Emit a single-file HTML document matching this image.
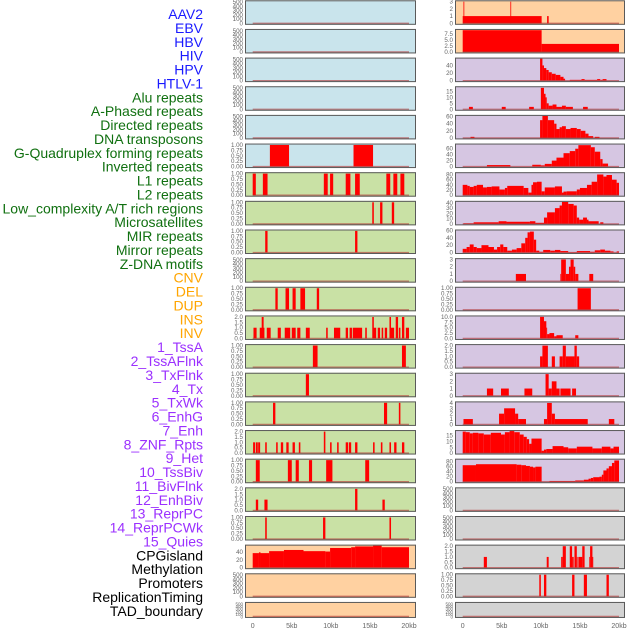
<!DOCTYPE html>
<html><head><meta charset="utf-8"><style>
html,body{margin:0;padding:0;background:#fff;}
svg{display:block;font-family:"Liberation Sans",sans-serif;}
</style></head><body>
<svg id="chart" width="630" height="630" viewBox="0 0 630 630" xmlns="http://www.w3.org/2000/svg"></svg>
<script>
const labelNames=["AAV2","EBV","HBV","HIV","HPV","HTLV-1","Alu repeats","A-Phased repeats","Directed repeats","DNA transposons","G-Quadruplex forming repeats","Inverted repeats","L1 repeats","L2 repeats","Low_complexity A/T rich regions","Microsatellites","MIR repeats","Mirror repeats","Z-DNA motifs","CNV","DEL","DUP","INS","INV","1_TssA","2_TssAFlnk","3_TxFlnk","4_Tx","5_TxWk","6_EnhG","7_Enh","8_ZNF_Rpts","9_Het","10_TssBiv","11_BivFlnk","12_EnhBiv","13_ReprPC","14_ReprPCWk","15_Quies","CPGisland","Methylation","Promoters","ReplicationTiming","TAD_boundary"];
const labelGroups=[0,0,0,0,0,0,1,1,1,1,1,1,1,1,1,1,1,1,1,2,2,2,2,2,3,3,3,3,3,3,3,3,3,3,3,3,3,3,3,4,4,4,4,4];
const xTickValues=[0,5,10,15,20];
const xTickLabels=["0","5kb","10kb","15kb","20kb"];
// bars: [startKb, endKb, value]
const L1=[],L2=[],L3=[],L4=[],L5=[];
const L6=[[2.2,4.65,1],[12.9,15.4,1]];
const L7=[[0,0.4,1],[1.3,1.9,1],[9.1,9.6,1],[9.9,10.3,1],[11.9,12.5,1],[13.1,13.7,1],[17.1,17.6,1],[18.0,18.5,1],[18.9,19.4,1]];
const L8=[[15.3,15.5,1],[16.3,16.6,1],[17.8,18.1,1]];
const L9=[[1.6,1.9,1],[13.1,13.4,1]];
const L10=[];
const L11=[[2.9,3.2,1],[4.2,4.65,1],[5.1,5.5,1],[6.1,6.7,1],[8.2,8.5,1]];
const L12=[[0.1,0.5,1],[0.9,1.5,1],[1.15,1.4,2],[1.8,2.3,1],[3.2,3.6,1],[4.1,4.8,1],[5.0,5.5,1],[5.7,6.1,1],[6.8,7.3,1],[9.4,9.6,1],[10.4,11.2,1],[11.9,12.2,1],[12.4,12.7,1],[12.8,14.0,1],[14.4,14.6,1],[15.3,15.5,2],[15.4,15.8,1],[16.0,16.3,1],[16.5,16.7,1],[16.9,17.2,1],[17.5,17.7,2],[17.6,18.1,1],[18.3,18.6,2],[18.7,18.9,1],[19.1,19.4,2],[19.6,20.0,1]];
const L13=[[7.7,8.3,1],[19.1,19.6,1]];
const L14=[[6.8,7.2,1]];
const L15=[[2.6,2.9,1],[16.8,17.2,1],[18.7,18.9,1]];
const L16=[[0.05,0.3,1],[0.4,0.65,1],[0.7,0.95,1],[1.6,1.8,1],[3.0,3.2,1],[3.6,3.9,1],[4.3,4.6,1],[5.1,5.4,1],[5.9,6.1,1],[9.1,9.3,2],[9.9,10.1,1],[10.8,11.0,1],[11.9,12.2,1],[12.3,12.6,1],[13.1,13.4,1],[15.4,15.6,1],[16.4,16.6,1],[17.5,17.7,1],[18.1,18.4,1],[19.1,19.4,1]];
const L17=[[0.4,0.9,1],[4.5,5.0,1],[5.5,5.9,1],[7.2,7.6,1],[9.4,10.2,1],[14.4,14.9,1]];
const L18=[[0.4,0.7,1],[1.5,1.9,1],[13.1,13.4,2],[16.6,16.9,1]];
const L19=[[1.6,1.8,1],[9.0,9.3,1],[17.5,17.7,1]];
const L20=[[0,0.8,37],[0.8,1.0,39],[1.0,2.1,37],[2.1,4.0,42],[4.0,6.5,45],[6.5,9.3,42],[9.3,9.9,41],[9.9,12.6,50],[12.6,13.1,52],[13.1,15.4,54],[15.4,16.5,56],[16.5,20,52]];
const L21=[],L22=[];
const R1=[[0,10.1,1],[0.1,0.2,3],[6.1,6.2,3],[10.8,11.0,1]];
const R2=[[0,10.1,9.2],[10.1,20,3.4]];
const R3=[[9.9,10.2,58],[10.2,10.4,40],[10.4,10.7,33],[10.7,11.0,28],[11.0,11.4,22],[11.4,11.9,18],[11.9,12.5,15],[12.5,12.9,10],[12.9,13.1,5],[13.7,15.2,2],[15.2,15.6,4],[15.6,17.2,2],[17.2,17.6,4],[17.6,17.9,2],[17.9,18.4,4]];
const R4=[[0.8,1.3,2],[5.0,5.5,2],[8.5,9.1,2],[10.0,10.4,18],[10.4,10.6,13],[10.6,10.75,10],[10.75,11.0,5],[11.0,11.5,3],[11.5,12.0,4],[12.0,12.7,2],[12.7,13.2,3],[13.2,14.1,2],[15.4,16.0,2]];
const R5=[[1.0,1.5,3],[9.9,10.2,50],[10.2,10.9,62],[10.9,11.7,50],[11.7,12.0,40],[12.0,12.4,25],[12.4,12.7,30],[12.7,13.2,33],[13.2,13.8,25],[13.8,14.6,28],[14.6,15.1,25],[15.1,15.7,20],[15.7,16.1,12],[16.1,16.7,5],[16.9,17.5,3]];
const R6=[[3.1,6.1,5],[8.9,10.0,6],[10.0,10.5,4],[10.5,11.4,9],[11.4,12.0,20],[12.0,12.9,30],[12.9,13.7,45],[13.7,14.4,52],[14.4,14.8,60],[14.8,16.4,72],[16.4,16.9,65],[16.9,17.6,50],[17.6,17.9,25],[17.9,18.6,10]];
const R7=[[0,0.6,40],[0.6,0.9,36],[0.9,1.4,32],[1.4,1.8,36],[1.8,2.6,40],[2.6,3.1,30],[3.1,3.7,32],[3.7,4.7,34],[4.7,5.4,22],[5.4,5.7,28],[5.7,7.8,36],[7.8,8.4,28],[8.4,8.8,10],[8.8,9.0,40],[9.0,9.5,50],[9.5,10.1,52],[10.1,10.5,15],[10.5,11.8,30],[11.8,12.7,34],[12.7,12.9,10],[12.9,13.3,14],[13.3,14.6,15],[14.6,15.0,22],[15.0,15.9,28],[15.9,16.5,40],[16.5,17.2,52],[17.2,18.0,80],[18.0,18.4,72],[18.4,19.1,78],[19.1,19.7,60],[19.7,20,48]];
const R8=[[0.1,1.4,1],[1.4,4.6,3],[4.6,5.6,5],[5.6,8.6,4],[8.6,9.3,5],[9.3,10.4,2],[10.4,10.8,12],[10.8,11.8,22],[11.8,12.4,30],[12.4,12.7,35],[12.7,13.5,42],[13.5,14.2,38],[14.2,14.6,35],[14.6,14.9,12],[14.9,15.4,8],[15.4,15.9,12],[15.9,16.1,8],[16.1,17.4,5],[17.6,18.0,3]];
const R9=[[0,0.5,10],[0.5,0.9,15],[0.9,1.4,22],[1.4,1.8,15],[1.8,2.4,12],[2.4,3.3,20],[3.3,4.0,15],[4.0,4.4,8],[4.4,4.8,15],[4.8,5.2,22],[5.2,5.7,15],[5.7,6.3,5],[6.3,6.9,8],[6.9,7.5,12],[7.5,8.0,25],[8.0,8.3,40],[8.3,8.6,55],[8.6,9.1,57],[9.1,9.4,35],[9.4,9.8,5],[9.8,10.3,2],[10.3,11.2,7],[11.2,11.8,5],[11.8,12.5,7],[12.5,13.5,4],[13.5,14.6,1],[14.6,16.3,4],[16.3,16.9,2],[16.9,17.6,6],[17.6,18.2,8],[18.2,18.9,5],[18.9,19.3,3],[19.7,20,3]];
const R10=[[6.8,8.1,1],[12.5,12.6,1],[12.6,13.2,3],[13.2,13.6,1],[13.6,13.8,2],[13.8,14.2,3],[14.2,14.4,2],[14.4,14.8,1],[16.2,16.7,1]];
const R11=[[14.7,16.4,1]];
const R12=[[9.9,10.4,10],[10.4,10.7,8],[10.7,10.8,5],[10.8,11.1,2],[11.1,11.7,2.5],[11.7,12.0,1],[12.0,12.8,1.5],[14.4,14.8,1.5]];
const R13=[[9.9,10.2,1],[10.2,10.9,2],[11.4,11.8,1],[12.4,12.8,1],[12.8,13.2,2],[13.2,13.6,1],[13.6,14.3,1],[14.3,14.6,2],[14.6,14.9,1]];
const R14=[[3.1,3.9,1],[4.9,5.9,1],[7.9,8.9,1],[10.6,11.0,3],[11.0,11.4,1],[11.4,12.0,2],[12.0,12.4,1],[12.5,13.8,1],[14.0,14.5,1]];
const R15=[[0.1,1.3,1],[4.65,5.3,2],[5.3,6.7,3],[6.7,7.1,2],[7.1,8.1,1],[10.4,10.8,1],[10.8,11.4,4],[11.4,11.8,2],[11.8,16.0,1],[18.7,19.4,1]];
const R16=[[0,0.4,18.5],[0.4,0.9,18],[0.9,1.3,17],[1.3,2.0,17.5],[2.0,2.7,17],[2.7,3.6,16],[3.6,4.9,17.5],[4.9,5.4,16],[5.4,6.0,18],[6.0,6.6,19],[6.6,7.3,18],[7.3,7.8,16],[7.8,8.2,14],[8.2,8.5,12],[8.5,8.8,8],[8.8,10.1,12.5],[10.1,10.4,2],[10.4,10.7,3],[10.7,11.5,3.5],[11.5,12.9,6],[12.9,13.5,5],[13.5,14.6,4],[14.6,16.6,5.5],[16.6,17.8,4],[17.8,18.9,5.5],[18.9,19.3,4],[19.3,20,5.5]];
const R17=[[0,1.7,66],[1.7,6.9,70],[6.9,7.5,68],[7.5,8.1,66],[8.1,8.6,63],[8.6,9.0,60],[9.0,9.3,57],[9.3,10.1,60],[11.1,14.4,3],[14.4,15.5,5],[15.5,16.1,8],[16.1,16.4,12],[16.4,16.7,15],[16.7,17.5,18],[17.5,17.8,20],[17.8,18.0,28],[18.0,18.4,45],[18.4,18.7,53],[18.7,19.1,62],[19.1,19.4,75],[19.4,20,85]];
const R18=[],R19=[];
const R20=[[2.7,3.1,1],[10.75,11.0,1],[12.6,12.8,1],[12.8,13.2,2],[13.7,14.0,2],[14.0,14.2,1],[14.3,14.6,2],[14.6,14.7,1],[14.8,15.3,1],[15.3,15.6,2],[16.2,16.3,1],[16.3,16.6,2],[16.6,16.7,1]];
const R21=[[9.8,10.0,1],[10.4,10.7,1],[14.0,14.3,1],[15.5,15.9,1],[18.4,18.7,1]];
const R22=[];
const leftBars=[L1,L2,L3,L4,L5,L6,L7,L8,L9,L10,L11,L12,L13,L14,L15,L16,L17,L18,L19,L20,L21,L22];
const rightBars=[R1,R2,R3,R4,R5,R6,R7,R8,R9,R10,R11,R12,R13,R14,R15,R16,R17,R18,R19,R20,R21,R22];
const T5=[0,100,200,300,400,500],T1=[0,0.25,0.5,0.75,1],T2=[0,0.5,1,1.5,2];
const leftTicks=[T5,T5,T5,T5,T5,T1,T1,T1,T1,T5,T1,T2,T1,T1,T1,T2,T1,T2,T1,[0,20,40],T5,T5];
const rightTicks=[[0,1,2,3],[0,2.5,5,7.5],[0,20,40],[0,5,10,15],[0,20,40,60],[0,20,40,60],[0,20,40,60,80],[0,10,20,30,40],[0,20,40,60],[0,1,2,3],T1,[0,2.5,5,7.5,10],T2,[0,1,2,3],[0,1,2,3,4],[0,5,10,15],[0,20,40,60,80],T5,T5,T2,T1,T5];
const leftMax=[520,520,520,520,520,1.02,1.02,1.02,1.02,520,1.02,2.05,1.02,1.02,1.02,2.05,1.02,2.05,1.02,56,520,520];
const rightMax=[3.05,9.3,58,18.5,62,74,85,42,60,3.05,1.02,10.2,2.05,3.05,4.1,19,88,520,520,2.05,1.02,520];
const leftColors=["#c9e4ec","#c9e4ec","#c9e4ec","#c9e4ec","#c9e4ec","#c9e4ec","#c9e1a5","#c9e1a5","#c9e1a5","#c9e1a5","#c9e1a5","#c9e1a5","#c9e1a5","#c9e1a5","#c9e1a5","#c9e1a5","#c9e1a5","#c9e1a5","#c9e1a5","#ffd1a1","#ffd1a1","#ffd1a1"];
const rightColors=["#ffd1a1","#ffd1a1","#d6c6e2","#d6c6e2","#d6c6e2","#d6c6e2","#d6c6e2","#d6c6e2","#d6c6e2","#d6c6e2","#d6c6e2","#d6c6e2","#d6c6e2","#d6c6e2","#d6c6e2","#d6c6e2","#d6c6e2","#d3d3d3","#d3d3d3","#d3d3d3","#d3d3d3","#d3d3d3"];

const NS="http://www.w3.org/2000/svg";
const svg=document.getElementById('chart');
const groupColors=["#1a1aff","#107010","#ffa500","#9b30ff","#000000"];
function mk(tag,attrs){const e=document.createElementNS(NS,tag);for(const k in attrs)e.setAttribute(k,attrs[k]);return e;}
function fmt(v,ticks){const dec=ticks.some(t=>Math.abs(t*100%100)>0&&Math.abs(t*100%50)>0)?2:(ticks.some(t=>t%1!==0)?1:0);return v.toFixed(dec);}

labelNames.forEach((n,i)=>{
  const t=mk('text',{x:203,y:14+i*13.88+5,'text-anchor':'end','font-size':14,fill:groupColors[labelGroups[i]]});
  
  
  t.textContent=n;svg.appendChild(t);
});

function drawColumn(col,px,pw,bars,ticks,maxes,colors){
  for(let i=0;i<22;i++){
    const top=0.3+i*28.65, h=(i===21?16:24.5);
    const g=mk('g',{});
    
    
    svg.appendChild(g);
    const bg=mk('rect',{x:px,y:top,width:pw,height:h,fill:colors[i]});
    
    
    g.appendChild(bg);
    const y0=top+h-1.5, ytop=top+1, ymax=maxes[i];
    const ys=v=>y0-(v/ymax)*(y0-ytop);
    const xs=kb=>px+7.7+kb*7.815;
    bars[i].forEach(b=>{
      const r=mk('rect',{x:xs(b[0]),y:ys(b[2]),width:Math.max(0.8,xs(b[1])-xs(b[0])),height:y0-ys(b[2]),fill:'#ff0000'});
      
      
      g.appendChild(r);
    });
    const bl=mk('line',{x1:xs(0),x2:xs(20),y1:y0,y2:y0,stroke:'#b03030','stroke-opacity':0.6,'stroke-width':1.3});
    
    
    g.appendChild(bl);
    const bd=mk('rect',{x:px+0.5,y:top+0.5,width:pw-1,height:h-1,fill:'none',stroke:'#5a5a5a','stroke-width':1});
    
    
    g.appendChild(bd);
    ticks[i].forEach(tv=>{
      const tt=mk('text',{x:px-2,y:ys(tv)+2,'text-anchor':'end','font-size':(i===21?4.5:6.2),fill:'#666'});
      
      
      tt.textContent=fmt(tv,ticks[i]);g.appendChild(tt);
    });
  }
  xTickValues.forEach((v,k)=>{
    const t=mk('text',{x:px+7.7+v*7.815,y:628,'text-anchor':'middle','font-size':7,fill:'#666'});
    
    
    t.textContent=xTickLabels[k];svg.appendChild(t);
  });
}
drawColumn('left',245,171,leftBars,leftTicks,leftMax,leftColors);
drawColumn('right',455,170,rightBars,rightTicks,rightMax,rightColors);
</script>
</body></html>
